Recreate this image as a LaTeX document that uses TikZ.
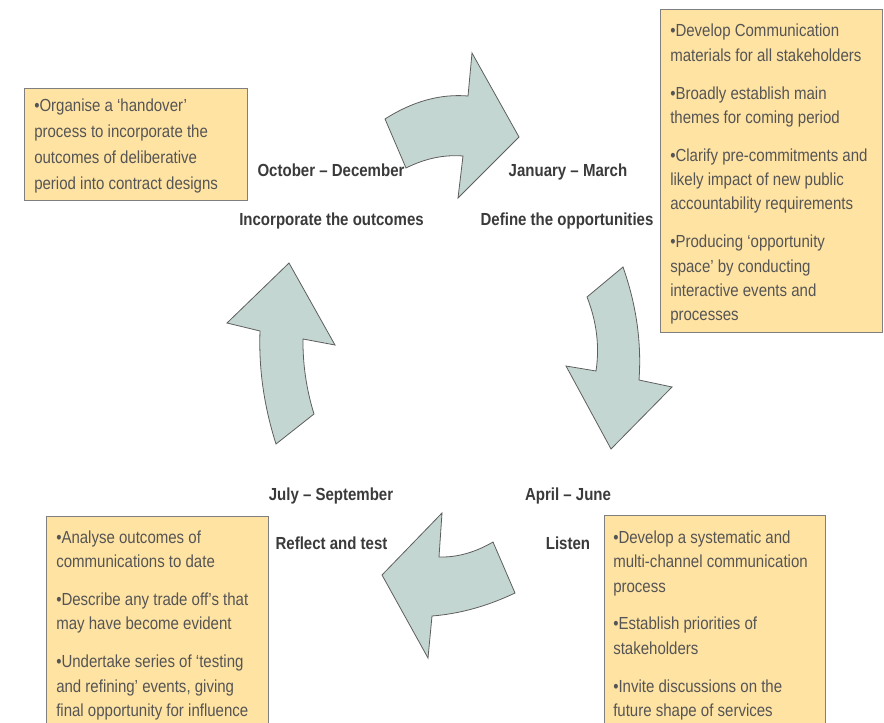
\documentclass[tikz,border=0pt]{standalone}
\usepackage{fontspec}
\setmainfont{Liberation Sans}[FakeStretch=0.86]
\definecolor{boxfill}{HTML}{FFE3A3}
\definecolor{boxline}{HTML}{7F7F7F}
\definecolor{arrfill}{HTML}{C4D6D1}
\definecolor{arrline}{HTML}{5E5E5E}
\definecolor{textgray}{HTML}{555555}
\definecolor{labgray}{HTML}{3A3A3A}
\begin{document}
\begin{tikzpicture}[x=0.75pt,y=-0.75pt,
  infobox/.style={draw=boxline, fill=boxfill, line width=0.75pt, inner sep=0pt, anchor=north west},
  boxtext/.style={anchor=north west, inner sep=0pt, align=left, text=textgray, font=\fontsize{13.1}{18.3}\selectfont},
  lab/.style={anchor=base, inner sep=0pt, text=labgray, font=\bfseries\fontsize{13.1}{16}\selectfont},
  arr/.style={draw=arrline, fill=arrfill, line width=0.6pt, line join=miter}]
\useasboundingbox (0,0) rectangle (884,723);
\clip (0,0) rectangle (884,723);

% boxes
\node[infobox, minimum width=167.25pt, minimum height=84pt] (tlbox) at (24,88) {};
\node[infobox, minimum width=166.5pt, minimum height=242.25pt] (trbox) at (660,9) {};
\node[infobox, minimum width=166.5pt, minimum height=200pt] (blbox) at (46,516) {};
\node[infobox, minimum width=165.75pt, minimum height=200pt] (brbox) at (604,515) {};

\node[boxtext, font=\fontsize{13.1}{19.5}\selectfont] (tltext) at (34,99) {%
•Organise a `handover'\\ process to incorporate the\\ outcomes of deliberative\\ period into contract designs};

\node[boxtext] (trtext) at (670,24) {%
•Develop Communication\\ materials for all stakeholders\\[10pt]
•Broadly establish main\\ themes for coming period\\[10pt]
•Clarify pre-commitments and\\ likely impact of new public\\ accountability requirements\\[10pt]
•Producing `opportunity\\ space' by conducting\\ interactive events and\\ processes};

\node[boxtext] (bltext) at (56,530.5) {%
•Analyse outcomes of\\ communications to date\\[10pt]
•Describe any trade off's that\\ may have become evident\\[10pt]
•Undertake series of `testing\\ and refining' events, giving\\ final opportunity for influence};

\node[boxtext] (brtext) at (613,530.5) {%
•Develop a systematic and\\ multi-channel communication\\ process\\[10pt]
•Establish priorities of\\ stakeholders\\[10pt]
•Invite discussions on the\\ future shape of services};

% labels
\node[lab] (octdec) at (331,177) {October – December};
\node[lab] (incorp) at (331.5,226) {Incorporate the outcomes};
\node[lab] (janmar) at (568,177) {January – March};
\node[lab] (define) at (567,226) {Define the opportunities};
\node[lab] (aprjun) at (568,500) {April – June};
\node[lab] (listen) at (568,549) {Listen};
\node[lab] (julsep) at (331,500) {July – September};
\node[lab] (reflect) at (331.5,549) {Reflect and test};

% arrows
\draw[arr] (385,119) .. controls (412.7,101.3) and (440.3,93.7) .. (468,96)
  -- (472,53) -- (519,137) -- (458,198) -- (463,156)
  .. controls (444,154.5) and (425,158.5) .. (406,168) -- cycle;
\draw[arr] (587,297) -- (623,267) .. controls (636.3,304.7) and (641.7,342.3) .. (639,380)
  -- (672,387) -- (611,449) -- (566,366) -- (596,371)
  .. controls (599.7,346.3) and (596.7,321.7) .. (587,297) -- cycle;
\draw[arr] (493,542) -- (515,593) .. controls (487.3,606.2) and (459.7,613.8) .. (432,616)
  -- (428,658) -- (382,575) -- (442,513) -- (439,557)
  .. controls (457,557.5) and (475,552.5) .. (493,542) -- cycle;
\draw[arr] (276,444) -- (314,414) .. controls (306.3,389) and (302.7,364) .. (303,339)
  -- (335,345) -- (289,263) -- (227,323) -- (260,331)
  .. controls (258.6,368.7) and (264,406.3) .. (276,444) -- cycle;
\end{tikzpicture}
\end{document}
